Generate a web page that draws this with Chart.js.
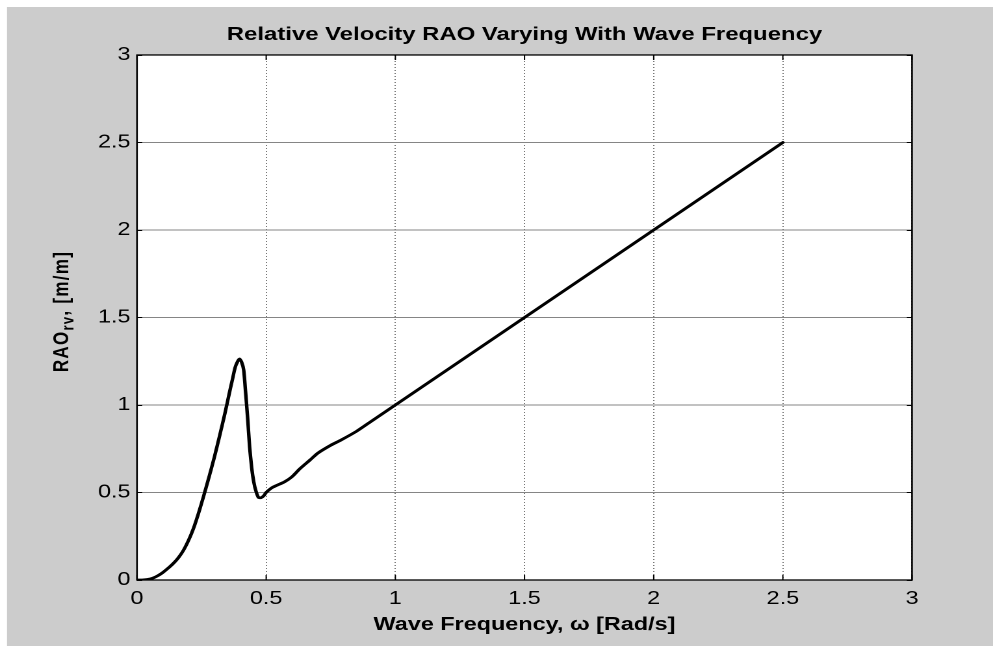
<!DOCTYPE html>
<html>
<head>
    <script src="https://cdn.jsdelivr.net/npm/chart.js@4.4.0/dist/chart.umd.min.js"></script>
    <style>
        body { margin: 0; background: #ffffff; overflow: hidden; }
        /* the original figure is a MATLAB plot stretched sideways; draw narrow and stretch */
        #wrap {
            width: 764px;
            height: 646px;
            transform: scaleX(1.29974);
            transform-origin: 0 0;
        }
    </style>
</head>
<body>
<div id="wrap">
    <canvas id="raoChart" width="764" height="646"></canvas>
</div>

<script>
    // wave frequency [rad/s] and relative velocity RAO [m/m]
    const freq = [0, 0.02, 0.04, 0.06, 0.08, 0.10, 0.12, 0.14, 0.16, 0.18,
        0.20, 0.22, 0.24, 0.26, 0.28, 0.30, 0.32, 0.34, 0.36, 0.37,
        0.38, 0.39, 0.397, 0.405, 0.413, 0.42, 0.428, 0.436, 0.444, 0.452,
        0.46, 0.47, 0.48, 0.49, 0.50, 0.52, 0.54, 0.57, 0.60, 0.63,
        0.67, 0.70, 0.75, 0.79, 0.85, 0.90, 0.95, 1.0, 1.1, 1.2,
        1.3, 1.4, 1.5, 1.6, 1.7, 1.8, 1.9, 2.0, 2.1, 2.2,
        2.3, 2.4, 2.5];
    const rao = [0, 0, 0.003, 0.01, 0.024, 0.043, 0.067, 0.094, 0.127, 0.17,
        0.228, 0.30, 0.39, 0.49, 0.595, 0.705, 0.825, 0.95, 1.085, 1.15,
        1.215, 1.25, 1.263, 1.245, 1.20, 1.08, 0.93, 0.76, 0.64, 0.56,
        0.51, 0.472, 0.47, 0.48, 0.50, 0.525, 0.54, 0.56, 0.59, 0.635,
        0.686, 0.725, 0.77, 0.80, 0.85, 0.90, 0.95, 1.0, 1.1, 1.2,
        1.3, 1.4, 1.5, 1.6, 1.7, 1.8, 1.9, 2.0, 2.1, 2.2,
        2.3, 2.4, 2.5];
    const xTicks = [0, 0.5, 1, 1.5, 2, 2.5, 3];
    const yTicks = [0, 0.5, 1, 1.5, 2, 2.5, 3];

    const fontName = '"Liberation Sans", Arial, Helvetica, sans-serif';

    // gray figure, white axes box, inward ticks on all four sides, y label with subscript
    const matlabFrame = {
        id: 'matlabFrame',
        beforeDraw(chart) {
            const ctx = chart.ctx;
            const a = chart.chartArea;
            ctx.save();
            ctx.fillStyle = '#cccccc';
            ctx.fillRect(5.4, 7, chart.width, chart.height);
            ctx.fillStyle = '#ffffff';
            ctx.fillRect(a.left, a.top, a.right - a.left, a.bottom - a.top);
            ctx.restore();
        },
        afterDraw(chart) {
            const ctx = chart.ctx;
            const a = chart.chartArea;
            const xs = chart.scales.x;
            const ys = chart.scales.y;
            ctx.save();
            ctx.strokeStyle = '#000000';
            ctx.lineWidth = 1;
            ctx.beginPath();
            xs.ticks.forEach(t => {
                const px = xs.getPixelForValue(t.value);
                ctx.moveTo(px, a.bottom); ctx.lineTo(px, a.bottom - 5);
                ctx.moveTo(px, a.top); ctx.lineTo(px, a.top + 5);
            });
            ys.ticks.forEach(t => {
                const py = Math.round(ys.getPixelForValue(t.value)) + 0.5;
                ctx.moveTo(a.left, py); ctx.lineTo(a.left + 4, py);
                ctx.moveTo(a.right, py); ctx.lineTo(a.right - 4, py);
            });
            ctx.stroke();
            ctx.lineWidth = 1.3;
            ctx.strokeRect(a.left, a.top, a.right - a.left, a.bottom - a.top);

            // y axis label: RAO_rv, [m/m]
            ctx.translate(47.5, (a.top + a.bottom) / 2 - 6);
            ctx.rotate(-Math.PI / 2);
            ctx.letterSpacing = '1.3px';
            ctx.fillStyle = '#000000';
            ctx.textBaseline = 'alphabetic';
            ctx.textAlign = 'left';
            const big = 'bold 17px ' + fontName;
            const small = 'bold 13px ' + fontName;
            ctx.font = big;
            const w1 = ctx.measureText('RAO').width;
            const w3 = ctx.measureText(', [m/m]').width;
            ctx.font = small;
            const w2 = ctx.measureText('rv').width;
            const x0 = -(w1 + w2 + w3) / 2;
            ctx.font = big;
            ctx.fillText('RAO', x0, 5);
            ctx.font = small;
            ctx.fillText('rv', x0 + w1, 9);
            ctx.font = big;
            ctx.fillText(', [m/m]', x0 + w1 + w2, 5);
            ctx.restore();
        }
    };

    const points = freq.map((f, i) => ({x: f, y: rao[i]}));

    const ctx = document.getElementById('raoChart').getContext('2d');
    const myChart = new Chart(ctx, {
        type: 'line',
        data: {
            datasets: [{
                data: points,
                borderColor: '#000000',
                borderWidth: 2.7,
                tension: 0.2,
                pointRadius: 0,
                fill: false,
                borderJoinStyle: 'round',
                borderCapStyle: 'round'
            }]
        },
        options: {
            responsive: false,
            animation: false,
            devicePixelRatio: 2,
            layout: {padding: {left: 0, right: 62.3, top: 0, bottom: 0}},
            plugins: {
                legend: {display: false},
                tooltip: {enabled: false},
                title: {
                    display: true,
                    text: 'Relative Velocity RAO Varying With Wave Frequency',
                    color: '#000000',
                    fullSize: false,
                    font: {family: fontName, size: 18.4, weight: 'bold'},
                    padding: {top: 24, bottom: 8.9}
                }
            },
            scales: {
                x: {
                    type: 'linear',
                    min: 0,
                    max: 3,
                    afterBuildTicks: s => { s.ticks = xTicks.map(v => ({value: v})); },
                    afterFit: s => { s.height = 66; },
                    grid: {color: '#777777', lineWidth: 1, drawTicks: false},
                    border: {display: false, dash: [1, 2]},
                    ticks: {
                        color: '#000000',
                        autoSkip: false,
                        maxRotation: 0,
                        padding: 8,
                        font: {family: fontName, size: 18},
                        callback: v => String(v)
                    },
                    title: {
                        display: true,
                        text: 'Wave Frequency, \u03c9 [Rad/s]',
                        color: '#000000',
                        font: {family: fontName, size: 18, weight: 'bold'},
                        padding: {top: 0, bottom: 10}
                    }
                },
                y: {
                    type: 'linear',
                    min: 0,
                    max: 3,
                    afterBuildTicks: s => { s.ticks = yTicks.map(v => ({value: v})); },
                    afterFit: s => { s.width = 105.4; },
                    grid: {color: '#858585', lineWidth: 1, drawTicks: false},
                    border: {display: false},
                    ticks: {
                        color: '#000000',
                        padding: 5,
                        font: {family: fontName, size: 18},
                        callback: v => String(v)
                    }
                }
            }
        },
        plugins: [matlabFrame]
    });
</script>
</body>
</html>
